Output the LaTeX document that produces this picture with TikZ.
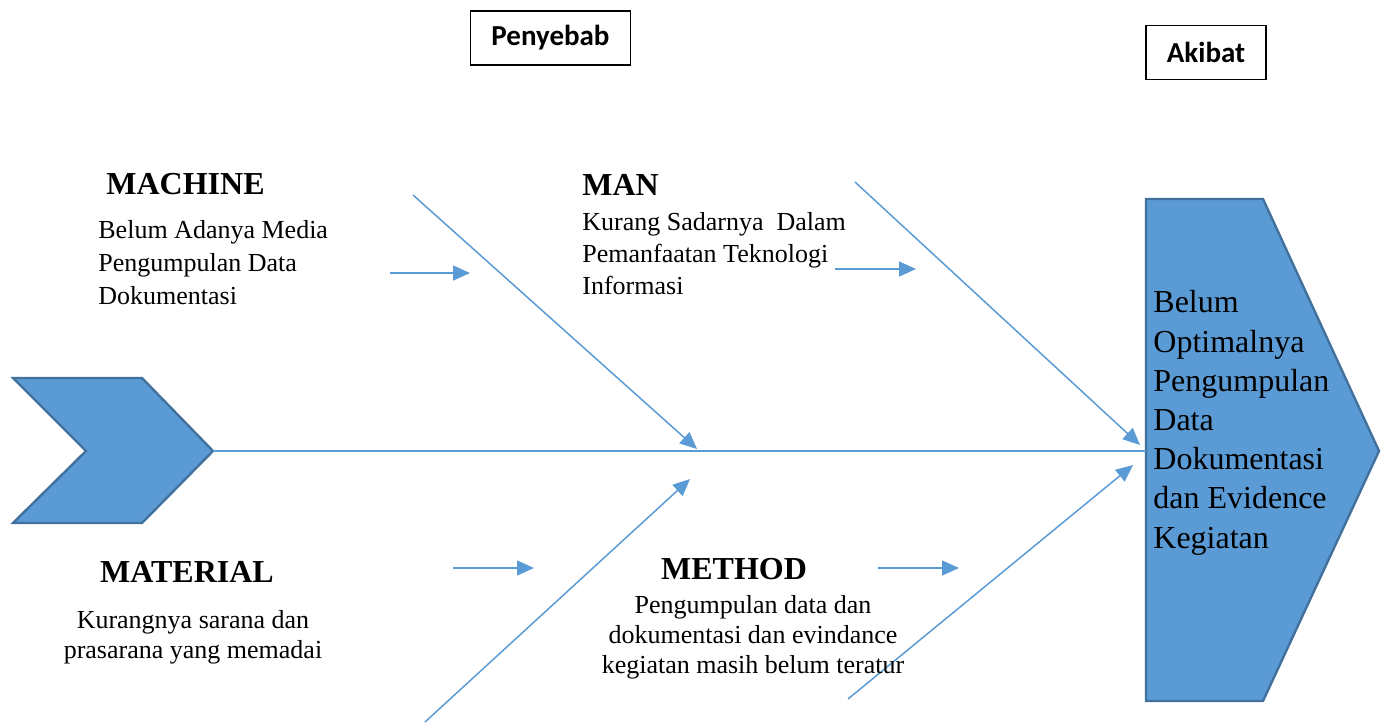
\documentclass[tikz,border=0pt]{standalone}
\usepackage{fontspec}
\setmainfont{Liberation Serif}
\newfontfamily\calibri{Carlito}
\usetikzlibrary{arrows.meta, positioning}
\definecolor{boneblue}{HTML}{5B9BD5}
\definecolor{edgeblue}{HTML}{41719C}
\tikzset{>={Triangle[length=8.5pt,width=7.5pt]}}

\begin{document}
\begin{tikzpicture}[x=0.5pt, y=-0.5pt,
    bone/.style={boneblue, line width=0.75pt},
    head/.style={font=\fontsize{16}{19}\bfseries\selectfont, inner sep=0pt},
    cause/.style={font=\fontsize{13}{16.5}\selectfont, inner sep=0pt},
    label/.style={draw, line width=0.9pt, minimum width=80pt, minimum height=27pt, font=\calibri\fontsize{14.5}{17}\bfseries\selectfont},
    fishpart/.style={fill=boneblue, draw=edgeblue, line width=1.2pt, line join=miter}]
    \useasboundingbox (0,0) rectangle (1382,724);
    % titles
    \node[label] (penyebab) at (550.5,38) {Penyebab};
    \node[label, minimum width=60pt] (akibat) at (1206,52.5) {Akibat};
    % tail and head
    \draw[fishpart] (13,378) -- (142,378) -- (213,451) -- (142,523) -- (13,523) -- (86,451) -- cycle;
    \draw[fishpart] (1146,199) -- (1263,199) -- (1379,451) -- (1263,701) -- (1146,701) -- cycle;
    \coordinate (tail) at (213,451);
    \coordinate (mouth) at (1146,451);
    \draw[bone, line width=0.9pt] (tail) -- (mouth);
    % multi-line nodes sit on the baseline of their last line
    \node[anchor=base west, align=left, inner sep=0pt, font=\fontsize{16}{19.6}\selectfont] (effect) at (1153,548)
        {Belum\\Optimalnya\\Pengumpulan\\Data\\Dokumentasi\\dan Evidence\\Kegiatan};
    % bones
    \coordinate (b1) at (413,195);  \coordinate (t1) at (697,449);
    \coordinate (b2) at (855,182);  \coordinate (t2) at (1140,445);
    \coordinate (b3) at (425,722);  \coordinate (t3) at (690,479);
    \coordinate (b4) at (848,699);  \coordinate (t4) at (1133,465);
    \draw[bone, ->] (b1) -- (t1);
    \draw[bone, ->] (b2) -- (t2);
    \draw[bone, ->] (b3) -- (t3);
    \draw[bone, ->] (b4) -- (t4);
    % small arrows
    \coordinate (s1) at (390,273);  \coordinate (e1) at (470,273);
    \coordinate (s2) at (835,269);  \coordinate (e2) at (916,269);
    \coordinate (s3) at (453,568);  \coordinate (e3) at (534,568);
    \coordinate (s4) at (878,568);  \coordinate (e4) at (959,568);
    \draw[bone, ->] (s1) -- (e1);
    \draw[bone, ->] (s2) -- (e2);
    \draw[bone, ->] (s3) -- (e3);
    \draw[bone, ->] (s4) -- (e4);
    % causes
    \node[head, anchor=base west] (machine) at (106,194) {MACHINE};
    \node[cause, anchor=base west, align=left] (machinetxt) at (98,304)
        {Belum Adanya Media\\Pengumpulan Data\\Dokumentasi};
    \node[head, anchor=base west] (man) at (582,195) {MAN};
    \node[cause, anchor=base west, align=left, font=\fontsize{13}{16}\selectfont] (mantxt) at (582,294)
        {Kurang Sadarnya\ \ Dalam\\Pemanfaatan Teknologi\\Informasi};
    \node[head, anchor=base] (material) at (187,582) {MATERIAL};
    \node[cause, anchor=base, align=center, font=\fontsize{13}{15}\selectfont] (materialtxt) at (193,658)
        {Kurangnya sarana dan\\prasarana yang memadai};
    \node[head, anchor=base] (method) at (734,579) {METHOD};
    \node[cause, anchor=base, align=center, font=\fontsize{13}{15}\selectfont] (methodtxt) at (753,673)
        {Pengumpulan data dan\\dokumentasi dan evindance\\kegiatan masih belum teratur};
\end{tikzpicture}
\end{document}
